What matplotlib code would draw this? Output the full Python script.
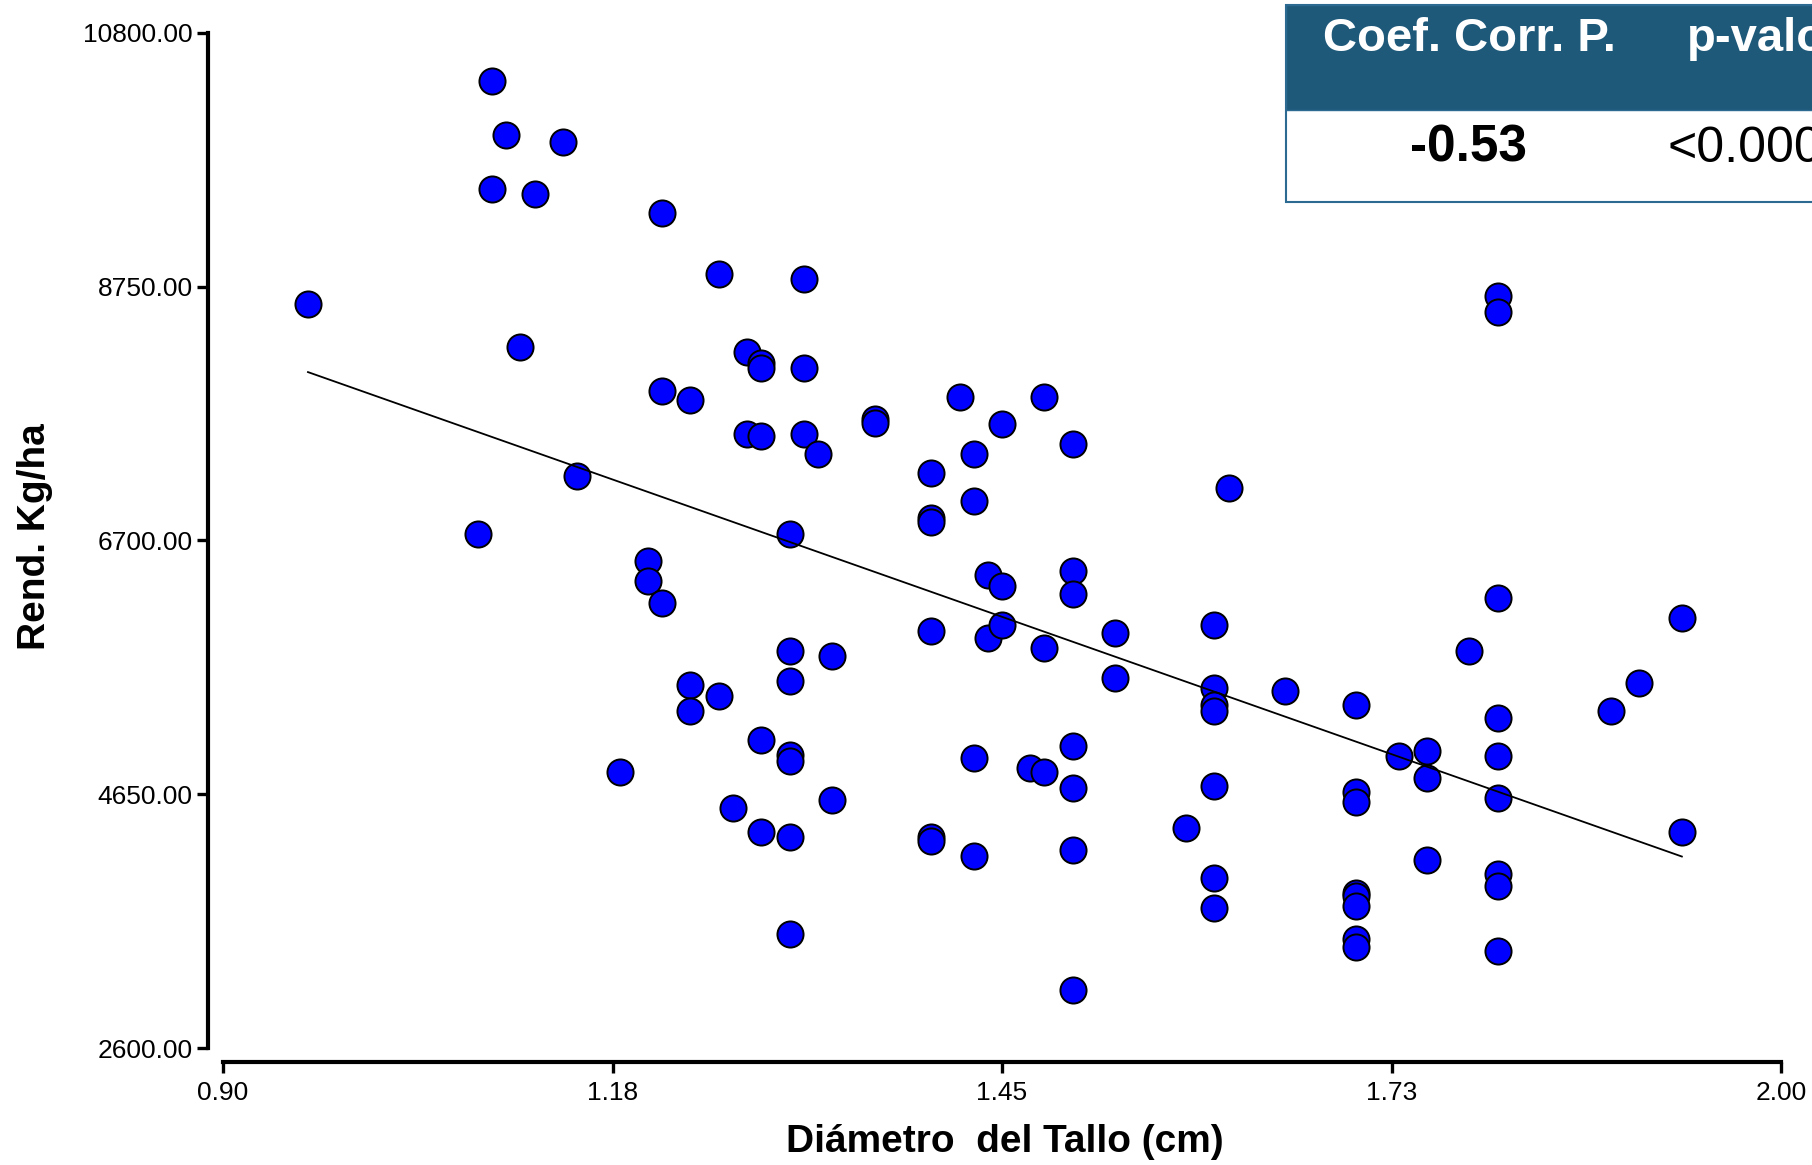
import numpy as np
import matplotlib
matplotlib.use("Agg")
import matplotlib.pyplot as plt
from matplotlib.patches import Rectangle

plt.rcParams['font.family'] = ['Liberation Sans', 'DejaVu Sans']

diametro = [0.96,
            1.08,
            1.09, 1.09,
            1.10,
            1.11,
            1.12,
            1.14,
            1.15,
            1.18,
            1.20, 1.20,
            1.21, 1.21, 1.21,
            1.23, 1.23, 1.23,
            1.25, 1.25,
            1.26,
            1.27, 1.27,
            1.28, 1.28, 1.28, 1.28, 1.28,
            1.30, 1.30, 1.30, 1.30, 1.30, 1.30, 1.30,
            1.31, 1.31, 1.31,
            1.32,
            1.33, 1.33,
            1.36, 1.36,
            1.40, 1.40, 1.40, 1.40, 1.40, 1.40,
            1.42,
            1.43, 1.43, 1.43, 1.43,
            1.44, 1.44,
            1.45, 1.45, 1.45,
            1.47,
            1.48, 1.48, 1.48,
            1.50, 1.50, 1.50, 1.50, 1.50, 1.50, 1.50,
            1.53, 1.53,
            1.58,
            1.60, 1.60, 1.60, 1.60, 1.60, 1.60, 1.60,
            1.61,
            1.65,
            1.70, 1.70, 1.70, 1.70, 1.70, 1.70, 1.70, 1.70,
            1.73,
            1.75, 1.75, 1.75,
            1.78,
            1.80, 1.80, 1.80, 1.80, 1.80, 1.80, 1.80, 1.80, 1.80,
            1.88,
            1.90,
            1.93, 1.93]

rendimiento = [8610,
               6756,
               10416, 9536,
               9976,
               8263,
               9499,
               9920,
               7224,
               4828,
               6531, 6372,
               9349, 7907, 6194,
               7833, 5530, 5324,
               8853, 5445,
               4537,
               8226, 7561,
               8132, 8095, 7542, 5090, 4341,
               6756, 5811, 5567, 4968, 4921, 4304, 3517,
               8815, 8095, 7561,
               7402,
               5764, 4603,
               7683, 7646,
               7243, 6878, 6850, 5970, 4304, 4275,
               7861,
               7402, 7018, 4940, 4154,
               6419, 5914,
               7645, 6335, 6017,
               4865,
               7861, 5829, 4828,
               7477, 6456, 6269, 5043, 4697, 4200, 3068,
               5951, 5586,
               4378,
               6017, 5511, 5371, 5324, 4715, 3976, 3732,
               7121,
               5483,
               5371, 4669, 4584, 3854, 3826, 3751, 3480, 3414,
               4959,
               4996, 4781, 4116,
               5811,
               8675, 8544, 6232, 5268, 4959, 4622, 4004, 3910, 3386,
               5324,
               5548,
               6073, 4341]

x_ticks = [0.90, 1.175, 1.45, 1.725, 2.00]
x_tick_labels = ['0.90', '1.18', '1.45', '1.73', '2.00']
y_ticks = [2600, 4650, 6700, 8750, 10800]
y_tick_labels = ['2600.00', '4650.00', '6700.00', '8750.00', '10800.00']

coef_corr = '-0.53'
p_valor = '<0.0001'

W, H = 1812, 1165
fig = plt.figure(figsize=(W / 100, H / 100), dpi=100)
ax = fig.add_axes([223 / W, 1 - 1048 / H, (1781 - 223) / W, (1048 - 33) / H])

ax.plot(diametro, rendimiento, 'o', ms=18.8, mfc='#0000FF', mec='black',
        mew=1.4, zorder=3, clip_on=False)

# recta de regresión
pendiente, intercepto = np.polyfit(diametro, rendimiento, 1)
xr = np.array([min(diametro), max(diametro)])
ax.plot(xr, intercepto + pendiente * xr, color='black', lw=1.3, zorder=4)

ax.set_xlim(0.9, 2.0)
ax.set_ylim(2600, 10800)
ax.spines['top'].set_visible(False)
ax.spines['right'].set_visible(False)
ax.spines['left'].set_position(('outward', 10.8))
ax.spines['bottom'].set_position(('outward', 10))
ax.spines['left'].set_linewidth(3)
ax.spines['bottom'].set_linewidth(3)
ax.set_xticks(x_ticks, x_tick_labels)
ax.set_yticks(y_ticks, y_tick_labels)
ax.tick_params(axis='both', length=8, width=2.4, labelsize=19, color='black')
ax.tick_params(axis='y', pad=3)
ax.tick_params(axis='x', pad=6)

fig.text(1005 / W, 1 - 1152 / H, 'Diámetro  del Tallo (cm)', ha='center',
         va='baseline', fontsize=28, fontweight='bold')
fig.text(35 / W, 1 - 537 / H, 'Rend. Kg/ha', ha='center', va='center',
         rotation=90, fontsize=28, fontweight='bold')

# tabla de correlación (recortada a la derecha como en el original)
fig.patches.append(Rectangle((1286 / W, 1 - 202 / H), 600 / W, (202 - 5) / H,
                             transform=fig.transFigure, facecolor='white',
                             edgecolor='#2C6A92', lw=1.5, zorder=0))
fig.patches.append(Rectangle((1286 / W, 1 - 110 / H), 600 / W, (110 - 5) / H,
                             transform=fig.transFigure, facecolor='#1F597A',
                             edgecolor='#2C6A92', lw=1.0, zorder=1))
fig.text(1469 / W, 1 - 51 / H, 'Coef. Corr. P.', ha='center', va='baseline',
         color='white', fontsize=34, fontweight='bold')
fig.text(1687 / W, 1 - 51 / H, 'p-valor', ha='left', va='baseline',
         color='white', fontsize=34, fontweight='bold')
fig.text(1469 / W, 1 - 162 / H, coef_corr, ha='center', va='baseline',
         color='black', fontsize=37, fontweight='bold')
fig.text(1668 / W, 1 - 162 / H, p_valor, ha='left', va='baseline',
         color='black', fontsize=36)

fig.savefig('out.png', dpi=100)
